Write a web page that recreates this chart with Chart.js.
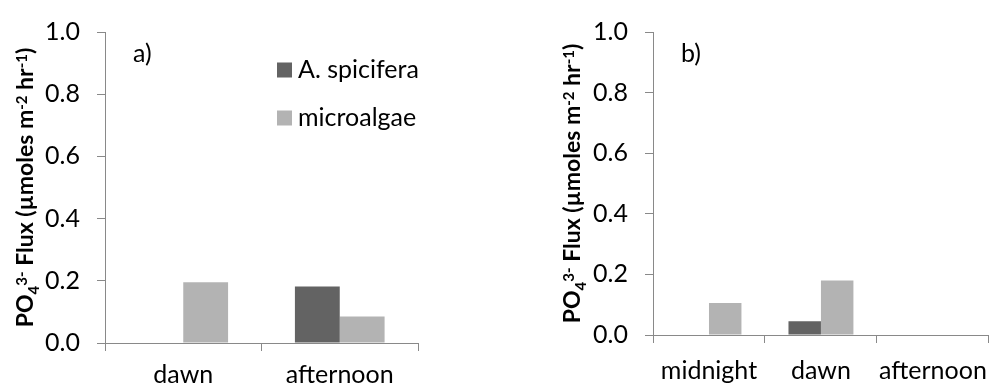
<!DOCTYPE html>
<html>
<head>
<meta charset="utf-8">
<script src="https://cdn.jsdelivr.net/npm/chart.js@4.4.0/dist/chart.umd.min.js"></script>
<style>
  body { margin: 0; background: #fff; }
  #wrap { position: relative; width: 1000px; height: 387px; }
  canvas { position: absolute; top: 0; }
  #fluxA { left: 0; }
  #fluxB { left: 500px; }
</style>
</head>
<body>
<div id="wrap">
  <canvas id="fluxA" width="500" height="387"></canvas>
  <canvas id="fluxB" width="500" height="387"></canvas>
</div>
<script>
const seriesNames = ['A. spicifera', 'microalgae'];
const seriesColors = ['#636363', '#b3b3b3'];

const timesA = ['dawn', 'afternoon'];
const spiciferaA = [0, 0.182];
const microalgaeA = [0.195, 0.085];

const timesB = ['midnight', 'dawn', 'afternoon'];
const spiciferaB = [0, 0.045, 0];
const microalgaeB = [0.106, 0.18, 0];

const yTicks = [0, 0.2, 0.4, 0.6, 0.8, 1.0];

// axis title in pieces: 0 normal, 1 superscript, -1 subscript
const yTitle = [['PO', 0], ['4', -1], ['3-', 1], [' Flux (µmoles m', 0], ['-2', 1], [' hr', 0], ['-1', 1], [')', 0]];

const FONT = 'Lato';
const FONT_SIZE = 25;
const TITLE_SIZE = 23;
const AXIS = '#898989';

Chart.defaults.font.family = FONT;
Chart.defaults.color = '#000';

// rotated y title with sub/superscripts, plus the panel letter
const panelText = {
  id: 'panelText',
  afterDraw(chart, args, opts) {
    const ctx = chart.ctx;
    const area = chart.chartArea;
    const size = opts.titleSize;
    const small = Math.round(size * 0.66);
    const pieces = yTitle.map(([t, s]) => {
      const f = `bold ${s ? small : size}px ${FONT}`;
      ctx.font = f;
      return { t, s, f, w: ctx.measureText(t).width };
    });
    const total = pieces.reduce((a, p) => a + p.w, 0);

    ctx.save();
    ctx.fillStyle = '#000';
    ctx.translate(opts.baseline, (area.top + area.bottom) / 2);
    ctx.rotate(-Math.PI / 2);
    ctx.textBaseline = 'alphabetic';
    let x = -total / 2;
    for (const p of pieces) {
      ctx.font = p.f;
      const dy = p.s === 1 ? -size * 0.28 : p.s === -1 ? size * 0.28 : 0;
      ctx.fillText(p.t, x, dy);
      x += p.w;
    }
    ctx.restore();

    ctx.save();
    ctx.font = `${opts.size}px ${FONT}`;
    ctx.fillStyle = '#000';
    ctx.textBaseline = 'middle';
    ctx.fillText(opts.letter, area.left + opts.letterX, area.top + opts.letterY);
    ctx.restore();
  }
};

// legend stacked inside the plot area
const boxLegend = {
  id: 'boxLegend',
  afterDraw(chart, args, opts) {
    if (!opts.show) return;
    const ctx = chart.ctx;
    const area = chart.chartArea;
    ctx.save();
    ctx.font = `${opts.size}px ${FONT}`;
    ctx.textBaseline = 'middle';
    chart.data.datasets.forEach((ds, i) => {
      const x = area.left + opts.x;
      const y = area.top + opts.y + i * opts.step;
      ctx.fillStyle = ds.backgroundColor;
      ctx.fillRect(x, y - 7.5, 15, 15);
      ctx.fillStyle = '#000';
      ctx.fillText(ds.label, x + 21, y);
    });
    ctx.restore();
  }
};

function makeChart(id, labels, spicifera, microalgae, geo) {
  const ctx = document.getElementById(id);
  return new Chart(ctx, {
    type: 'bar',
    data: {
      labels: labels,
      datasets: [
        { label: seriesNames[0], data: spicifera, backgroundColor: seriesColors[0] },
        { label: seriesNames[1], data: microalgae, backgroundColor: seriesColors[1] }
      ]
    },
    options: {
      responsive: false,
      animation: false,
      devicePixelRatio: 1,
      layout: { padding: { top: geo.top, right: geo.right, left: 0, bottom: 0 } },
      datasets: { bar: { categoryPercentage: geo.group, barPercentage: 1, borderWidth: 0 } },
      plugins: {
        legend: { display: false },
        tooltip: { enabled: false },
        panelText: { size: FONT_SIZE, titleSize: TITLE_SIZE, baseline: geo.titleX, letter: geo.letter, letterX: 28, letterY: 22 },
        boxLegend: { show: geo.legend, size: FONT_SIZE, x: 172, y: 38, step: 48 }
      },
      scales: {
        x: {
          offset: true,
          grid: { offset: true, drawOnChartArea: false, drawTicks: true, tickLength: 8, color: AXIS, lineWidth: 1 },
          border: { color: AXIS, width: 1 },
          ticks: { font: { size: FONT_SIZE }, padding: geo.xPad, maxRotation: 0 },
          afterFit: (scale) => { scale.height = geo.xHeight; }
        },
        y: {
          min: 0,
          max: 1,
          afterBuildTicks: (scale) => { scale.ticks = yTicks.map(v => ({ value: v })); },
          grid: { drawOnChartArea: false, drawTicks: true, tickLength: 8, color: AXIS, lineWidth: 1 },
          border: { color: AXIS, width: 1 },
          ticks: { font: { size: FONT_SIZE }, padding: 17, callback: (v) => v.toFixed(1) },
          afterFit: (scale) => { scale.width = geo.yWidth; }
        }
      }
    },
    plugins: [panelText, boxLegend]
  });
}

makeChart('fluxA', timesA, spiciferaA, microalgaeA,
  { top: 24, right: 82, yWidth: 105, xHeight: 44, xPad: 9, group: 0.573, titleX: 33, letter: 'a)', legend: true });

makeChart('fluxB', timesB, spiciferaB, microalgaeB,
  { top: 25, right: 1, yWidth: 153, xHeight: 52, xPad: 13, group: 0.58, titleX: 80, letter: 'b)', legend: false });
</script>
</body>
</html>
